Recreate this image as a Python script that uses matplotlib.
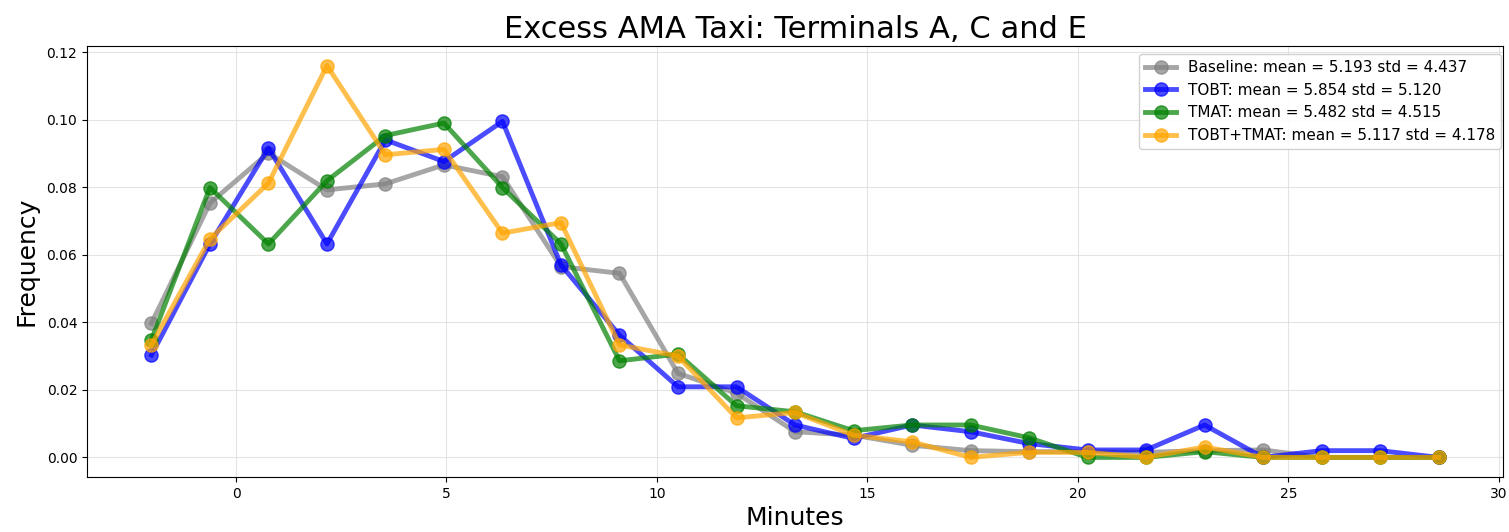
import matplotlib
matplotlib.use("Agg")
import matplotlib.pyplot as plt

# bin centres (minutes)
minutes = [-2.01, -0.62, 0.77, 2.16, 3.55, 4.94, 6.33, 7.72, 9.11, 10.50, 11.89,
           13.28, 14.67, 16.06, 17.45, 18.84, 20.23, 21.62, 23.01, 24.40, 25.79,
           27.18, 28.57]

baseline = [0.0397, 0.0753, 0.0901, 0.0792, 0.0810, 0.0866, 0.0831, 0.0565, 0.0545,
            0.0249, 0.0190, 0.0076, 0.0066, 0.0036, 0.0020, 0.0017, 0.0017, 0.0015,
            0.0020, 0.0022, 0.0, 0.0, 0.0]
tobt = [0.0303, 0.0632, 0.0916, 0.0632, 0.0940, 0.0876, 0.0995, 0.0570, 0.0362,
        0.0209, 0.0209, 0.0096, 0.0056, 0.0096, 0.0076, 0.0041, 0.0022, 0.0022,
        0.0096, 0.0, 0.0020, 0.0020, 0.0]
tmat = [0.0348, 0.0799, 0.0632, 0.0819, 0.0953, 0.0990, 0.0799, 0.0632, 0.0286,
        0.0306, 0.0153, 0.0135, 0.0079, 0.0096, 0.0096, 0.0058, 0.0, 0.0, 0.0017,
        0.0, 0.0, 0.0, 0.0]
tobt_tmat = [0.0333, 0.0647, 0.0812, 0.1160, 0.0896, 0.0912, 0.0664, 0.0695, 0.0333,
             0.0300, 0.0117, 0.0133, 0.0066, 0.0046, 0.0, 0.0015, 0.0015, 0.0,
             0.0031, 0.0, 0.0, 0.0, 0.0]

series = [
    ("Baseline: mean = 5.193 std = 4.437", baseline, "gray"),
    ("TOBT: mean = 5.854 std = 5.120", tobt, "blue"),
    ("TMAT: mean = 5.482 std = 4.515", tmat, "green"),
    ("TOBT+TMAT: mean = 5.117 std = 4.178", tobt_tmat, "orange"),
]

fig = plt.figure(figsize=(15.09, 5.32), dpi=100)
ax = fig.add_axes([0.0577, 0.1034, 0.9383, 0.8101])

for label, vals, color in series:
    ax.plot(minutes, vals, "-o", color=color, alpha=0.7, lw=3.5, ms=9.5, label=label)

ax.set_title("Excess AMA Taxi: Terminals A, C and E", fontsize=22)
ax.set_xlabel("Minutes", fontsize=18)
ax.set_ylabel("Frequency", fontsize=18, labelpad=6)
ax.grid(True, color="0.85", lw=0.8, alpha=0.7)
ax.legend(loc="upper right", bbox_to_anchor=(1.0, 0.985), borderaxespad=0.1,
          fontsize=11, framealpha=0.9, edgecolor="0.8")

fig.savefig("out.png", dpi=100)
